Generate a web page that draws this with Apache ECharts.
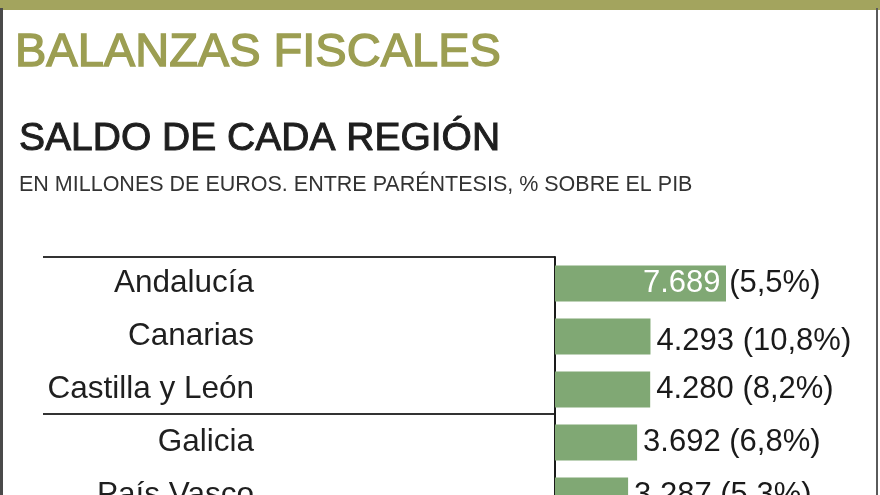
<!DOCTYPE html>
<html>
<head>
<meta charset="utf-8">
<script src="https://cdn.jsdelivr.net/npm/echarts@6/dist/echarts.min.js"></script>
<style>
html,body{margin:0;padding:0;background:#fff;}
#chart{width:880px;height:495px;}
</style>
</head>
<body>
<div id="chart"></div>
<script>
const categories = ['Andalucía', 'Canarias', 'Castilla y León', 'Galicia', 'País Vasco'];
const saldo = [7689, 4293, 4280, 3692, 3287];
const pctPib = [5.5, 10.8, 8.2, 6.8, 5.3];

const titleText = 'BALANZAS FISCALES';
const subtitleText = 'SALDO DE CADA REGIÓN';
const noteText = 'EN MILLONES DE EUROS. ENTRE PARÉNTESIS, % SOBRE EL PIB';

const FONT = '"Liberation Sans", Arial, Helvetica, sans-serif';
const fmtVal = v => String(v).replace(/\B(?=(\d{3})+(?!\d))/g, '.');
const fmtPct = v => v.toFixed(1).replace('.', ',');

const chart = echarts.init(document.getElementById('chart'), null, {renderer: 'canvas'});

const data = saldo.map((v, i) => {
  const item = {value: v};
  if (i === 0) {
    item.label = {
      position: 'right',
      distance: 0,
      offset: [-83, 0],
      formatter: '{w|' + fmtVal(v) + '} {d|(' + fmtPct(pctPib[i]) + '%)}',
      rich: {
        w: {color: '#ffffff', fontSize: 31, fontFamily: FONT},
        d: {color: '#1a1a1a', fontSize: 31, fontFamily: FONT}
      }
    };
  } else if (i === 1) {
    item.label = {offset: [0, 5]};
  }
  return item;
});

chart.setOption({
  backgroundColor: '#ffffff',
  animation: false,
  grid: {left: 555, top: 257, width: 222.4, height: 265, containLabel: false, outerBoundsMode: 'none'},
  xAxis: {
    type: 'value', min: 0, max: 10000,
    show: false
  },
  yAxis: {
    type: 'category',
    data: categories,
    inverse: true,
    axisLine: {show: true, lineStyle: {color: '#1a1a1a', width: 2}},
    axisTick: {show: false},
    splitLine: {show: false},
    axisLabel: {
      margin: 301,
      align: 'right',
      fontSize: 31.5,
      color: '#1f1f1f',
      fontFamily: FONT
    }
  },
  series: [{
    type: 'bar',
    data: data,
    barWidth: 36,
    itemStyle: {color: '#80a874'},
    label: {
      show: true,
      position: 'right',
      distance: 6,
      fontSize: 31,
      color: '#1a1a1a',
      fontFamily: FONT,
      formatter: p => fmtVal(saldo[p.dataIndex]) + ' (' + fmtPct(pctPib[p.dataIndex]) + '%)'
    }
  }],
  graphic: [
    {type: 'rect', shape: {x: 0, y: 0, width: 880, height: 10}, style: {fill: '#a3a45e'}, z: 10},
    {type: 'rect', shape: {x: 0, y: 8, width: 3, height: 487}, style: {fill: '#4a4a4a'}, z: 10},
    {type: 'rect', shape: {x: 876, y: 8, width: 2, height: 487}, style: {fill: '#5a5a5a'}, z: 10},
    {type: 'text', style: {text: titleText, x: 15, y: 53.5, verticalAlign: 'middle', fontSize: 47, fontFamily: FONT, fill: '#9c9e52', stroke: '#9c9e52', lineWidth: 1.4}},
    {type: 'text', style: {text: subtitleText, x: 19, y: 139, verticalAlign: 'middle', fontSize: 39, fontFamily: FONT, fill: '#1e1e1e', stroke: '#1e1e1e', lineWidth: 1}},
    {type: 'text', style: {text: noteText, x: 19, y: 185.5, verticalAlign: 'middle', fontSize: 21.5, fontFamily: FONT, fill: '#333333'}},
    {type: 'line', shape: {x1: 43, y1: 257, x2: 555, y2: 257}, style: {stroke: '#333333', lineWidth: 2}},
    {type: 'line', shape: {x1: 43, y1: 414, x2: 555, y2: 414}, style: {stroke: '#333333', lineWidth: 2}}
  ]
});
</script>
</body>
</html>
